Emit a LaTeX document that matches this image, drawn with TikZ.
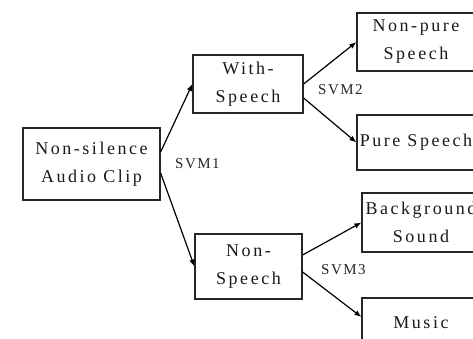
\documentclass[tikz,border=0pt]{standalone}
\usepackage{fontspec}
\setmainfont{Liberation Serif}
\newfontfamily\spaced[LetterSpace=14]{Liberation Serif}
\newfontfamily\spacedsm[LetterSpace=10]{Liberation Serif}
\usetikzlibrary{arrows.meta}
\begin{document}
\begin{tikzpicture}[x=1pt,y=-1pt,
  box/.style={draw=black!85, line width=1.2pt, align=center, inner sep=0pt,
    font=\spaced\fontsize{18}{28}\selectfont, text=black!90},
  arr/.style={line width=1.2pt, -{Latex[length=7pt,width=5.5pt]}},
  lbl/.style={font=\spacedsm\fontsize{15}{17}\selectfont, anchor=west, inner sep=0pt, text=black!85}]
\useasboundingbox (0,0) rectangle (473,339);
\clip (0,0) rectangle (473,339);
\node[box, minimum width=137pt, minimum height=72pt] (ns) at (91.5,164) {Non-silence\\Audio Clip};
\node[box, minimum width=110pt, minimum height=58pt] (ws) at (248,84) {With-\\Speech};
\node[box, minimum width=107pt, minimum height=65pt] (nsp) at (248.5,266.5) {Non-\\Speech};
\node[box, minimum width=118pt, minimum height=58pt] (np) at (416,42) {Non-pure\\Speech};
\node[box, minimum width=118pt, minimum height=55pt] (ps) at (416,142.5) {Pure Speech};
\node[box, minimum width=118pt, minimum height=59pt] (bg) at (421,222.5) {Background\\Sound};
\node[box, minimum width=118pt, minimum height=50pt] (mu) at (421,323) {Music};
\node[lbl] (s1) at (175,164) {SVM1};
\node[lbl] (s2) at (318,90) {SVM2};
\node[lbl] (s3) at (321,270) {SVM3};
\draw[arr] ([yshift=12pt]ns.east) -- (ws.west);
\draw[arr] ([yshift=-9pt]ns.east) -- (nsp.west);
\draw[arr] (ws.east) -- (np.west);
\draw[arr] ([yshift=-14pt]ws.east) -- (ps.west);
\draw[arr] ([yshift=11.5pt]nsp.east) -- (bg.west);
\draw[arr] ([yshift=-5.5pt]nsp.east) -- ([yshift=6pt]mu.west);
\end{tikzpicture}
\end{document}
